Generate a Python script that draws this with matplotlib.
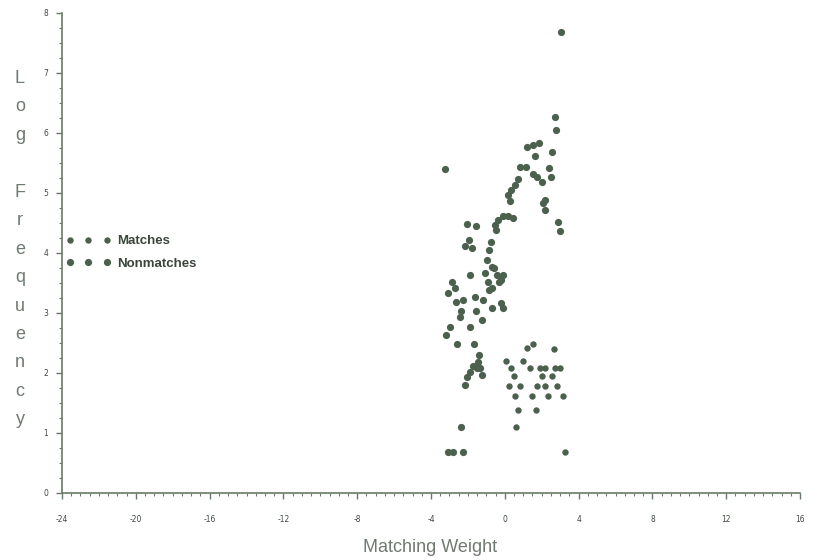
import numpy as np
import matplotlib
matplotlib.use("Agg")
import matplotlib.pyplot as plt
from matplotlib.ticker import MultipleLocator

# Nonmatches: the rising band of points
nonmatch_weight = [3.02, 2.71, 2.76, 1.86, 1.18, 1.52, 2.56, 1.63, 0.81, 1.14,
                   2.40, 1.53, 1.75, 2.53, 1.99, 0.72, 0.54, 0.36, 0.18, 0.27,
                   2.17, 2.07, 2.17, 2.89, 2.98, -0.54, -0.36, -0.09, 0.18, 0.42,
                   -0.49, -2.07, -1.57, -1.93, -2.17, -1.80, -0.77, -0.85, -0.99, -0.67,
                   -3.25, -0.60, -0.42, -0.09, -0.31, -1.05, -0.90, -0.85, -1.86, -2.85,
                   -3.07, -2.62, -2.29, -1.63, -1.18, -0.18, -0.12, -0.72, -1.57, -2.40,
                   -2.44, -1.21, -2.98, -3.16, -1.86, -2.58, -1.68, -1.39, -1.45, -1.53,
                   -1.72, -1.90, -2.07, -2.17, -1.26, -1.35, -2.40, -3.07, -2.80, -2.26,
                   -0.18, -0.72, -2.71]
nonmatch_logfreq = [7.69, 6.26, 6.05, 5.83, 5.76, 5.80, 5.69, 5.61, 5.44, 5.44,
                    5.41, 5.32, 5.27, 5.27, 5.19, 5.23, 5.13, 5.05, 4.97, 4.86,
                    4.88, 4.84, 4.71, 4.52, 4.37, 4.47, 4.55, 4.61, 4.61, 4.58,
                    4.38, 4.48, 4.45, 4.22, 4.11, 4.08, 4.19, 4.05, 3.88, 3.77,
                    5.40, 3.75, 3.63, 3.63, 3.52, 3.67, 3.51, 3.38, 3.63, 3.52,
                    3.34, 3.19, 3.22, 3.26, 3.22, 3.17, 3.08, 3.08, 3.04, 3.04,
                    2.94, 2.88, 2.77, 2.63, 2.76, 2.48, 2.48, 2.30, 2.19, 2.08,
                    2.11, 2.02, 1.94, 1.80, 1.97, 2.08, 1.10, 0.69, 0.69, 0.69,
                    3.55, 3.41, 3.41]

# Matches: the lower cluster
match_weight = [1.18, 1.53, 2.67, 0.05, 0.96, 0.36, 1.35, 1.90, 2.17, 2.71,
                2.98, 0.49, 1.99, 2.58, 0.23, 0.81, 1.72, 2.17, 2.83, 0.54,
                1.45, 2.35, 3.16, 0.72, 1.68, 0.63, 3.25]
match_logfreq = [2.42, 2.48, 2.40, 2.20, 2.20, 2.08, 2.08, 2.08, 2.08, 2.08,
                 2.08, 1.95, 1.95, 1.95, 1.79, 1.79, 1.79, 1.79, 1.79, 1.61,
                 1.61, 1.61, 1.61, 1.39, 1.39, 1.10, 0.69]

x_ticks = [-24, -20, -16, -12, -8, -4, 0, 4, 8, 12, 16]
y_ticks = [0, 1, 2, 3, 4, 5, 6, 7, 8]

dot_color = "#4b604d"
axis_color = "#6a7a6a"
text_color = "#6f7a70"

plt.rcParams["axes.unicode_minus"] = False

fig = plt.figure(figsize=(8.18, 5.6), dpi=100)
ax = fig.add_axes([62 / 818, 67 / 560, 738 / 818, 480 / 560])

ax.plot(match_weight, match_logfreq, "o", ms=4.6, color=dot_color, mec="none",
        label="Matches")
ax.plot(nonmatch_weight, nonmatch_logfreq, "o", ms=5.2, color=dot_color, mec="none",
        label="Nonmatches")

ax.set_xlim(-24, 16)
ax.set_ylim(0, 8)
ax.set_xticks(x_ticks)
ax.set_yticks(y_ticks)
ax.xaxis.set_minor_locator(MultipleLocator(0.5))
ax.yaxis.set_minor_locator(MultipleLocator(0.25))
ax.tick_params(which="major", length=4, width=1, color=axis_color,
               labelsize=5.5, labelcolor="#3e4a3f")
ax.tick_params(axis="x", which="major", pad=12)
ax.tick_params(axis="y", which="major", pad=6)
ax.tick_params(which="minor", length=2, width=0.8, color=axis_color)

for side in ["top", "right"]:
    ax.spines[side].set_visible(False)
for side in ["left", "bottom"]:
    ax.spines[side].set_color(axis_color)
    ax.spines[side].set_linewidth(1.2)

# legend sits inside the plot on the left
leg = ax.legend(loc="upper left", bbox_to_anchor=(-0.002, 0.548), frameon=False,
                numpoints=3, handlelength=3.4, handletextpad=0.5, labelspacing=0.75,
                borderaxespad=0, prop={"family": "Liberation Sans", "size": 9.5, "weight": "bold"})
for t in leg.get_texts():
    t.set_color("#3a463b")

# vertical stacked y label
fig.text(20 / 818, 1 - 70 / 560, "L\no\ng\n\nF\nr\ne\nq\nu\ne\nn\nc\ny",
         ha="center", va="top", fontsize=13, family="Liberation Sans",
         color=text_color, linespacing=1.88)
fig.text(430 / 818, 1 - 547 / 560, "Matching Weight", ha="center", va="center",
         fontsize=13, family="Liberation Sans", color=text_color)

fig.savefig("out.png", dpi=100)
